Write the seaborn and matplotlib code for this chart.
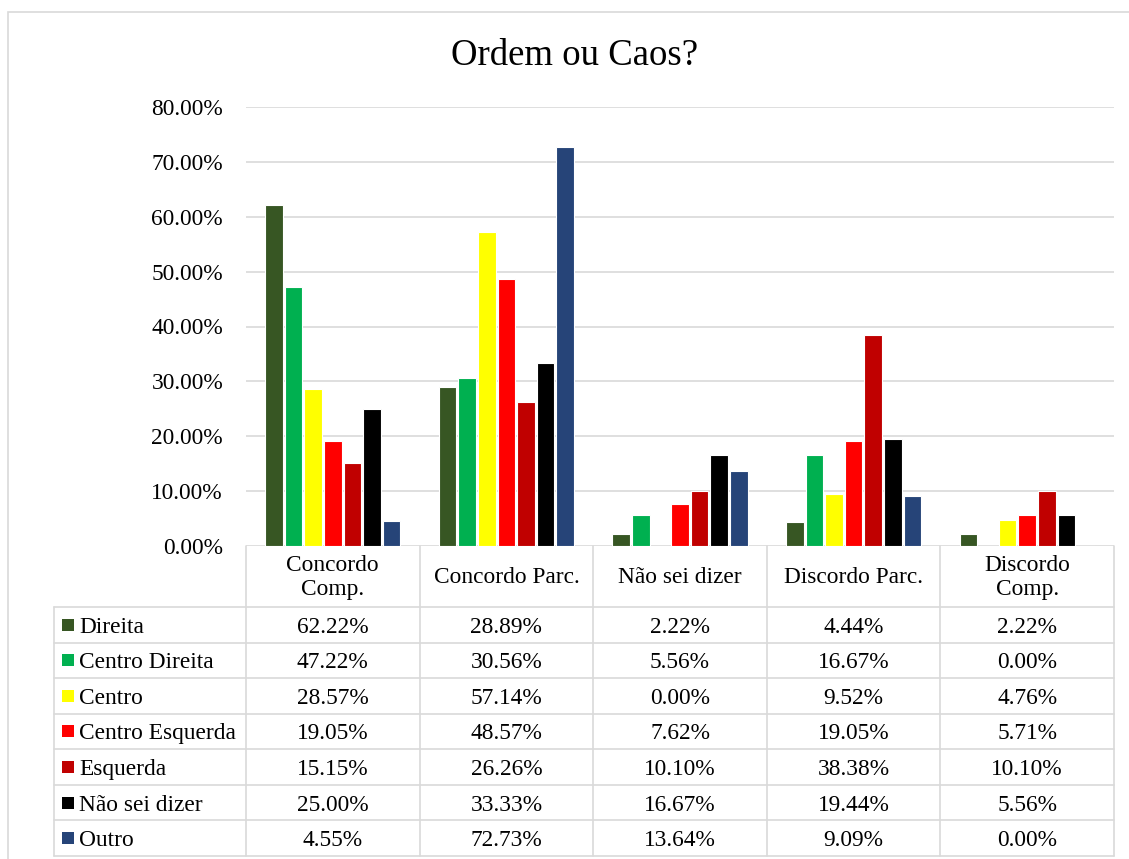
import matplotlib
matplotlib.use("Agg")
import matplotlib.pyplot as plt
import matplotlib.transforms as mtransforms
from matplotlib.patches import Rectangle
from matplotlib.lines import Line2D
import pandas as pd
import seaborn as sns

# ---- data (percent) ----
title = "Ordem ou Caos?"
categories = ["Concordo\nComp.", "Concordo Parc.", "Não sei dizer",
              "Discordo Parc.", "Discordo\nComp."]
series = ["Direita", "Centro Direita", "Centro", "Centro Esquerda",
          "Esquerda", "Não sei dizer", "Outro"]
direita = [62.22, 28.89, 2.22, 4.44, 2.22]
centro_direita = [47.22, 30.56, 5.56, 16.67, 0.00]
centro = [28.57, 57.14, 0.00, 9.52, 4.76]
centro_esquerda = [19.05, 48.57, 7.62, 19.05, 5.71]
esquerda = [15.15, 26.26, 10.10, 38.38, 10.10]
nao_sei_dizer = [25.00, 33.33, 16.67, 19.44, 5.56]
outro = [4.55, 72.73, 13.64, 9.09, 0.00]
y_ticks = [0, 10, 20, 30, 40, 50, 60, 70, 80]
colors = ["#375623", "#00B050", "#FFFF00", "#FF0000", "#C00000",
          "#000000", "#264478"]

values = [direita, centro_direita, centro, centro_esquerda,
          esquerda, nao_sei_dizer, outro]

rows = []
for name, vals in zip(series, values):
    for cat, v in zip(categories, vals):
        rows.append({"categoria": cat, "serie": name, "valor": v})
df = pd.DataFrame(rows)

# ---- style ----
sns.set_theme(style="white")
plt.rcParams["font.family"] = ["Liberation Serif", "DejaVu Serif"]
plt.rcParams["text.color"] = "black"
plt.rcParams["ytick.color"] = "black"
GRID = "#d9d9d9"
FS = 16.8

W, H = 1129, 859
def fx(x):
    return x / W
def fy(y):
    return 1 - y / H

fig = plt.figure(figsize=(W / 100, H / 100), dpi=100)
fig.patch.set_facecolor("white")

# chart frame
fig.add_artist(Rectangle((fx(8), fy(875)), fx(1150) - fx(8), fy(12) - fy(875),
                         transform=fig.transFigure, fill=False,
                         edgecolor=GRID, linewidth=1.2))

fig.text(fx(575), fy(56), title, fontsize=26.5, ha="center", va="center",
         color="black")

ax = fig.add_axes([fx(246), fy(546), fx(1114) - fx(246), fy(107) - fy(546)])
sns.barplot(data=df, x="categoria", y="valor", hue="serie",
            order=categories, hue_order=series, palette=colors,
            saturation=1, width=0.79, gap=0.1, edgecolor="white",
            linewidth=0.8, legend=False, ax=ax)

ax.set_xlim(-0.5, len(categories) - 0.5)
ax.set_ylim(0, 80)
ax.set_yticks(y_ticks)
ax.set_yticklabels([f"{t:.2f}%" for t in y_ticks])
ax.tick_params(axis="y", length=0, pad=16.5, labelsize=FS, labelcolor="black")
ax.set_xticks([])
ax.set_xlabel("")
ax.set_ylabel("")
for s in ax.spines.values():
    s.set_visible(False)
ax.yaxis.grid(True, color=GRID, linewidth=1.2)
ax.set_axisbelow(True)

# ---- data table under the axis ----
trans = mtransforms.blended_transform_factory(ax.transData, fig.transFigure)
top, header_bottom, row_h = 546, 607, 35.57
n_rows = len(series)
bottom = header_bottom + n_rows * row_h
dy = 2.5  # text baseline nudge inside cells

# column dividers
for i in range(len(categories) + 1):
    fig.add_artist(Line2D([i - 0.5, i - 0.5], [fy(top), fy(bottom)],
                          transform=trans, color=GRID, linewidth=1.2))
fig.add_artist(Line2D([fx(54), fx(54)], [fy(header_bottom), fy(bottom)],
                      transform=fig.transFigure, color=GRID, linewidth=1.2))
# row dividers
for k in range(n_rows + 1):
    y = header_bottom + k * row_h
    fig.add_artist(Line2D([fx(54), fx(1114)], [fy(y), fy(y)],
                          transform=fig.transFigure, color=GRID, linewidth=1.2))

# header
for i, cat in enumerate(categories):
    fig.text(i, fy((top + header_bottom) / 2 + 1), cat, transform=trans,
             ha="center", va="center", fontsize=FS, linespacing=1.15,
             color="black")

# rows
for k, (name, vals, col) in enumerate(zip(series, values, colors)):
    yc = header_bottom + (k + 0.5) * row_h
    fig.add_artist(Rectangle((fx(62), fy(yc + 6)), fx(12), fy(0) - fy(12),
                             transform=fig.transFigure, facecolor=col,
                             edgecolor="none"))
    fig.text(fx(79), fy(yc + dy), name, ha="left", va="center", fontsize=FS,
             color="black")
    for i, v in enumerate(vals):
        fig.text(i, fy(yc + dy), f"{v:.2f}%", transform=trans,
                 ha="center", va="center", fontsize=FS, color="black")

fig.savefig("out.png", dpi=100, facecolor="white")
